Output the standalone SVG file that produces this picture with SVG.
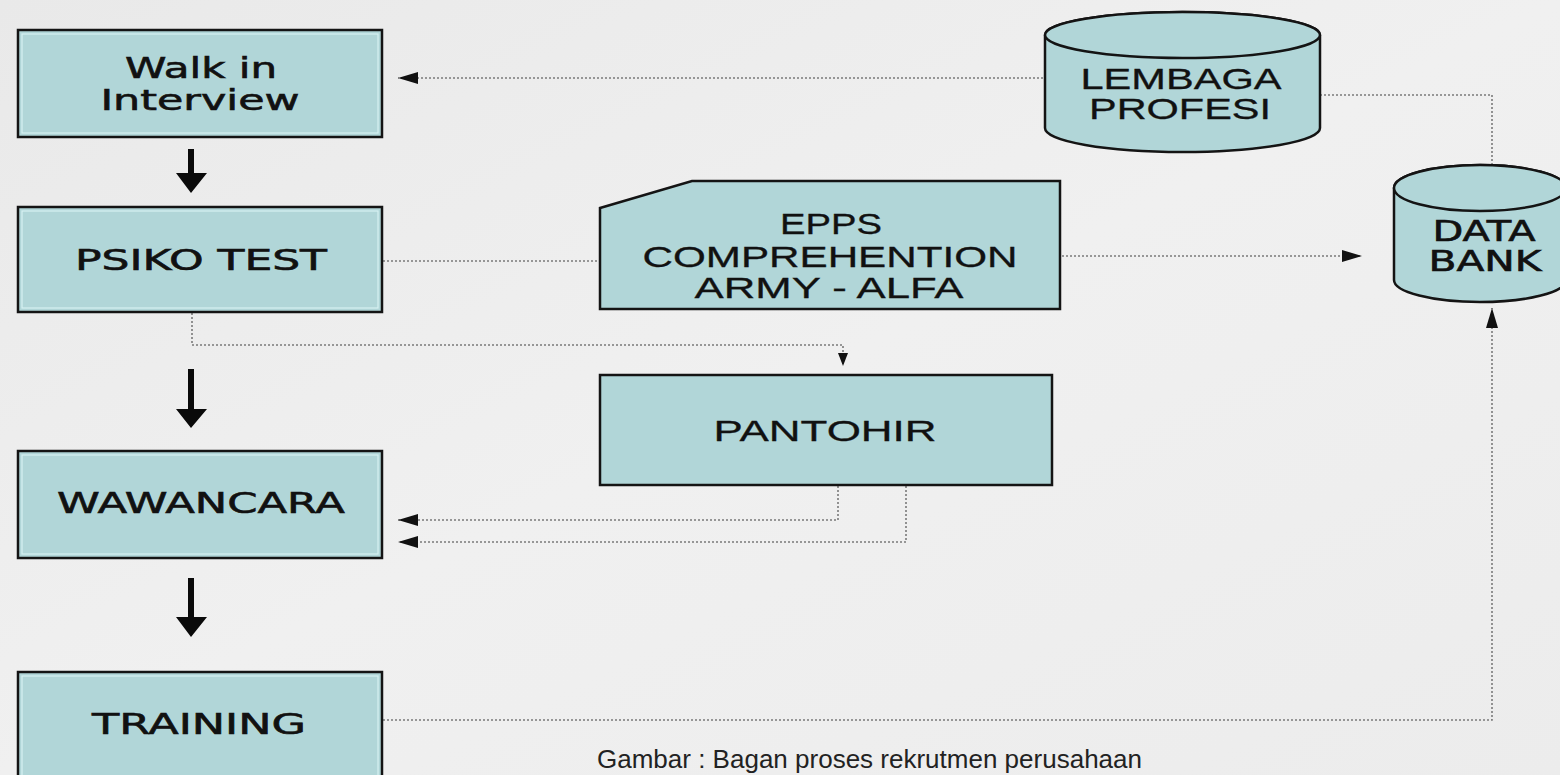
<svg xmlns="http://www.w3.org/2000/svg" width="1560" height="775" viewBox="0 0 1560 775">
<defs>
<linearGradient id="bg" x1="0" y1="0" x2="1" y2="1">
<stop offset="0" stop-color="#e9e9e9"/>
<stop offset="0.5" stop-color="#f0f0f0"/>
<stop offset="1" stop-color="#ececec"/>
</linearGradient>
<marker id="ah" markerUnits="userSpaceOnUse" markerWidth="22" markerHeight="12" refX="20" refY="6" orient="auto">
<path d="M0,0 L20,6 L0,12 z" fill="#111"/>
</marker>
<marker id="ahs" markerUnits="userSpaceOnUse" markerWidth="14" markerHeight="10" refX="13" refY="5" orient="auto">
<path d="M0,0 L13,5 L0,10 z" fill="#111"/>
</marker>
<style>
.box{fill:#b1d6d8;stroke:#141414;stroke-width:2.5}
.inner{fill:none;stroke:#d6f1f2;stroke-width:1.2}
.v{font-family:"DejaVu Sans",Verdana,sans-serif;font-size:28px;fill:#111;stroke:#111;stroke-width:0.6;text-anchor:middle}
.t{font-family:"Liberation Sans",Arial,sans-serif;font-size:29px;fill:#111;stroke:#111;stroke-width:0.3;text-anchor:middle}
.dot{fill:none;stroke:#7a7a7a;stroke-width:1.6;stroke-dasharray:2 2}
.big{fill:#0a0a0a}
</style>
</defs>
<rect width="1560" height="775" fill="url(#bg)"/>

<g id="connectors">
<path class="dot" d="M1043,78 L398,78" marker-end="url(#ah)"/>
<path class="dot" d="M1320,95 L1492,95 L1492,166"/>
<path class="dot" d="M383,261 L600,261"/>
<path class="dot" d="M1062,256 L1362,256" marker-end="url(#ah)"/>
<path class="dot" d="M192,313 L192,345 L843,345 L843,366" marker-end="url(#ahs)"/>
<path class="dot" d="M838,486 L838,520 L398,520" marker-end="url(#ah)"/>
<path class="dot" d="M906,486 L906,542 L398,542" marker-end="url(#ah)"/>
<path class="dot" d="M383,720 L1492,720 L1492,308" marker-end="url(#ah)"/>
<path class="big" d="M188,149 L194,149 L194,173 L207,173 L191,193 L176,173 L188,173 z"/>
<path class="big" d="M188,369 L194,369 L194,409 L207,409 L191,428 L176,409 L188,409 z"/>
<path class="big" d="M188,578 L194,578 L194,617 L207,617 L191,637 L176,617 L188,617 z"/>
</g>

<g id="walk-in-interview">
<rect class="box" x="18" y="30" width="364" height="107"/>
<rect class="inner" x="22" y="34" width="356" height="99"/>
<text class="v" x="201" y="78" textLength="152" lengthAdjust="spacingAndGlyphs">Walk in</text>
<text class="v" x="200" y="110" textLength="199" lengthAdjust="spacingAndGlyphs">Interview</text>
</g>

<g id="psiko-test">
<rect class="box" x="18" y="207" width="364" height="105"/>
<rect class="inner" x="22" y="211" width="356" height="97"/>
<text class="v" x="201" y="270" font-size="30" textLength="252" lengthAdjust="spacingAndGlyphs">PSIKO TEST</text>
</g>

<g id="wawancara">
<rect class="box" x="18" y="451" width="364" height="107"/>
<rect class="inner" x="22" y="455" width="356" height="99"/>
<text class="v" x="201" y="513" textLength="288" lengthAdjust="spacingAndGlyphs">WAWANCARA</text>
</g>

<g id="training">
<rect class="box" x="18" y="672" width="364" height="120"/>
<rect class="inner" x="22" y="676" width="356" height="112"/>
<text class="v" x="199" y="734" textLength="214" lengthAdjust="spacingAndGlyphs">TRAINING</text>
</g>

<g id="lembaga-profesi">
<path class="box" d="M1045,35 L1045,128 A137.5,24 0 0 0 1320,128 L1320,35 A137.5,23 0 0 0 1045,35 z"/>
<ellipse class="box" cx="1182.5" cy="35" rx="137.5" ry="23"/>
<text class="t" x="1181" y="89" textLength="201" lengthAdjust="spacingAndGlyphs">LEMBAGA</text>
<text class="t" x="1180" y="119" textLength="182" lengthAdjust="spacingAndGlyphs">PROFESI</text>
</g>

<g id="epps">
<path class="box" d="M600,208 L692,181 L1060,181 L1060,309 L600,309 z"/>
<text class="t" x="831" y="234" textLength="102" lengthAdjust="spacingAndGlyphs">EPPS</text>
<text class="t" x="830" y="267" textLength="375" lengthAdjust="spacingAndGlyphs">COMPREHENTION</text>
<text class="t" x="829" y="298" textLength="269" lengthAdjust="spacingAndGlyphs">ARMY - ALFA</text>
</g>

<g id="pantohir">
<rect class="box" x="600" y="375" width="452" height="110"/>
<text class="t" x="825" y="441" textLength="223" lengthAdjust="spacingAndGlyphs">PANTOHIR</text>
</g>

<g id="data-bank">
<path class="box" d="M1394,188 L1394,280 A86,22 0 0 0 1566,280 L1566,188 A86,23 0 0 0 1394,188 z"/>
<ellipse class="box" cx="1480" cy="188" rx="86" ry="23"/>
<text class="v" x="1484" y="241" textLength="103" lengthAdjust="spacingAndGlyphs">DATA</text>
<text class="v" x="1485" y="271" textLength="113" lengthAdjust="spacingAndGlyphs">BANK</text>
</g>

<text x="597" y="768" font-family="'Liberation Sans',Arial,sans-serif" font-size="26" fill="#222" textLength="545" lengthAdjust="spacingAndGlyphs">Gambar : Bagan proses rekrutmen perusahaan</text>
</svg>
